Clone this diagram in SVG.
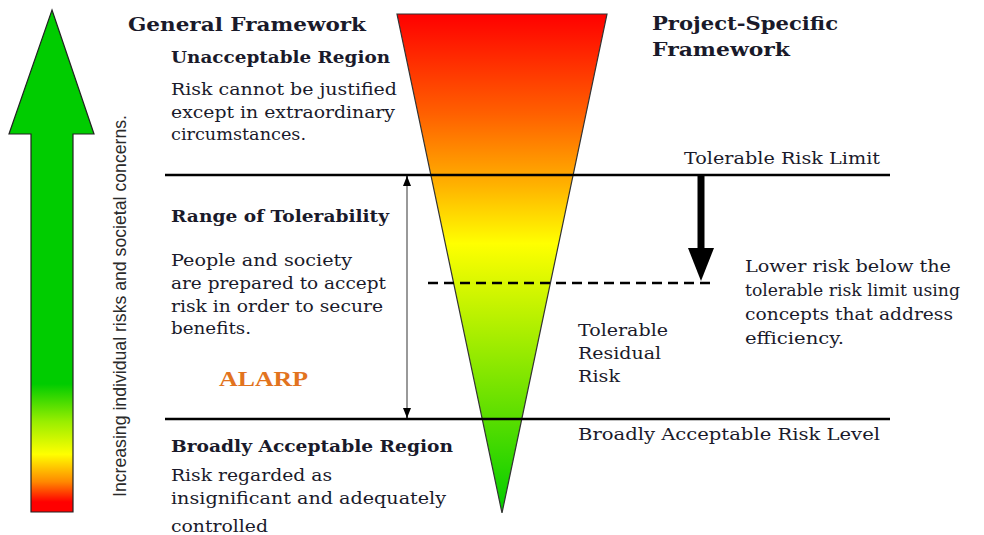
<svg xmlns="http://www.w3.org/2000/svg" width="984" height="535" viewBox="0 0 984 535">
<defs>
<linearGradient id="gArrow" x1="0" y1="10" x2="0" y2="512" gradientUnits="userSpaceOnUse">
<stop offset="0" stop-color="#00cc00"/>
<stop offset="0.745" stop-color="#00cc00"/>
<stop offset="0.82" stop-color="#99ee00"/>
<stop offset="0.885" stop-color="#ffff00"/>
<stop offset="0.94" stop-color="#ff8800"/>
<stop offset="0.98" stop-color="#ff0000"/>
<stop offset="1" stop-color="#ff0000"/>
</linearGradient>
<linearGradient id="gTri" x1="0" y1="14" x2="0" y2="513" gradientUnits="userSpaceOnUse">
<stop offset="0" stop-color="#ff0000"/>
<stop offset="0.2" stop-color="#ff6000"/>
<stop offset="0.34" stop-color="#ffb000"/>
<stop offset="0.46" stop-color="#ffff00"/>
<stop offset="0.64" stop-color="#aaee00"/>
<stop offset="1" stop-color="#00cc00"/>
</linearGradient>
<marker id="ah" viewBox="0 0 10 10" refX="10" refY="5" markerWidth="10" markerHeight="10" markerUnits="userSpaceOnUse" orient="auto">
<path d="M0,1 L10,5 L0,9 Z" fill="#000"/>
</marker>
</defs>
<style>
.t{font-family:"DejaVu Serif","Liberation Serif",serif;font-size:16px;fill:#1a1a2a;}
.b{font-weight:bold;}
.ln{stroke:#000;stroke-width:2.5;fill:none;}
</style>
<g id="risk-arrow">
<path d="M52,10 L94,134 L73,134 L73,512 L31,512 L31,134 L9,134 Z" fill="url(#gArrow)" stroke="#222" stroke-width="1.2"/>
<text transform="translate(126,497) rotate(-90)" style="font-family:'Liberation Sans',Arial,sans-serif;font-size:19px;fill:#2a2a2a" textLength="382" lengthAdjust="spacingAndGlyphs">Increasing individual risks and societal concerns.</text>
</g>
<g id="triangle">
<path d="M397,14 L607,14 L502,513 Z" fill="url(#gTri)" stroke="#333" stroke-width="1.2"/>
</g>
<g id="connectors">
<line class="ln" x1="165" y1="175" x2="890" y2="175"/>
<line class="ln" x1="165" y1="419" x2="890" y2="419"/>
<line x1="407" y1="184" x2="407" y2="410" stroke="#777" stroke-width="1.5"/>
<line x1="407" y1="186" x2="407" y2="176" stroke="#000" stroke-width="1.5" marker-end="url(#ah)"/>
<line x1="407" y1="408" x2="407" y2="418" stroke="#000" stroke-width="1.5" marker-end="url(#ah)"/>
<line x1="701" y1="176" x2="701" y2="250" stroke="#000" stroke-width="7"/>
<path d="M688,248 L714,248 L701,281 Z" fill="#000"/>
<line x1="428" y1="283" x2="712" y2="283" stroke="#000" stroke-width="2.5" stroke-dasharray="10,6"/>
</g>
<g id="general-framework">
<text class="t b" x="128" y="31" style="font-size:19px" textLength="238" lengthAdjust="spacingAndGlyphs">General Framework</text>
</g>
<g id="unacceptable-region">
<text class="t b" x="171" y="63" textLength="219" lengthAdjust="spacingAndGlyphs">Unacceptable Region</text>
<text class="t" x="171" y="95" textLength="226" lengthAdjust="spacingAndGlyphs">Risk cannot be justified</text>
<text class="t" x="171" y="118" textLength="224" lengthAdjust="spacingAndGlyphs">except in extraordinary</text>
<text class="t" x="171" y="140" textLength="135" lengthAdjust="spacingAndGlyphs">circumstances.</text>
</g>
<g id="project-framework">
<text class="t b" x="652" y="30" style="font-size:19px" textLength="186" lengthAdjust="spacingAndGlyphs">Project-Specific</text>
<text class="t b" x="652" y="56" style="font-size:19px" textLength="138" lengthAdjust="spacingAndGlyphs">Framework</text>
</g>
<g id="tolerable-limit">
<text class="t" x="684" y="164" textLength="196" lengthAdjust="spacingAndGlyphs">Tolerable Risk Limit</text>
</g>
<g id="range-tolerability">
<text class="t b" x="171" y="222" textLength="218" lengthAdjust="spacingAndGlyphs">Range of Tolerability</text>
<text class="t" x="171" y="266" textLength="181" lengthAdjust="spacingAndGlyphs">People and society</text>
<text class="t" x="171" y="289" textLength="215" lengthAdjust="spacingAndGlyphs">are prepared to accept</text>
<text class="t" x="171" y="312" textLength="212" lengthAdjust="spacingAndGlyphs">risk in order to secure</text>
<text class="t" x="171" y="334" textLength="80" lengthAdjust="spacingAndGlyphs">benefits.</text>
</g>
<g id="alarp">
<text x="219" y="386" style="font-family:'Liberation Serif','Times New Roman',serif;font-weight:bold;font-size:22px;fill:#e2731e" textLength="89" lengthAdjust="spacingAndGlyphs">ALARP</text>
</g>
<g id="lower-risk">
<text class="t" x="745" y="272" textLength="206" lengthAdjust="spacingAndGlyphs">Lower risk below the</text>
<text class="t" x="745" y="296" textLength="215" lengthAdjust="spacingAndGlyphs">tolerable risk limit using</text>
<text class="t" x="745" y="320" textLength="208" lengthAdjust="spacingAndGlyphs">concepts that address</text>
<text class="t" x="745" y="344" textLength="99" lengthAdjust="spacingAndGlyphs">efficiency.</text>
</g>
<g id="residual-risk">
<text class="t" x="578" y="336" textLength="90" lengthAdjust="spacingAndGlyphs">Tolerable</text>
<text class="t" x="578" y="359" textLength="83" lengthAdjust="spacingAndGlyphs">Residual</text>
<text class="t" x="578" y="382" textLength="42" lengthAdjust="spacingAndGlyphs">Risk</text>
</g>
<g id="acceptable-level">
<text class="t" x="578" y="440" textLength="302" lengthAdjust="spacingAndGlyphs">Broadly Acceptable Risk Level</text>
</g>
<g id="acceptable-region">
<text class="t b" x="171" y="452" textLength="282" lengthAdjust="spacingAndGlyphs">Broadly Acceptable Region</text>
<text class="t" x="171" y="481" textLength="161" lengthAdjust="spacingAndGlyphs">Risk regarded as</text>
<text class="t" x="171" y="504" textLength="275" lengthAdjust="spacingAndGlyphs">insignificant and adequately</text>
<text class="t" x="171" y="532" textLength="97" lengthAdjust="spacingAndGlyphs">controlled</text>
</g>
</svg>
